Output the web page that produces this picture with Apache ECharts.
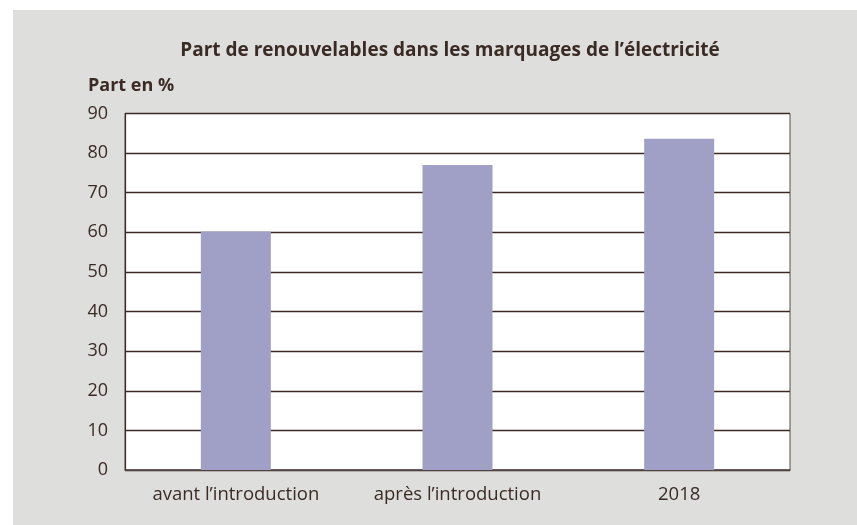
<!DOCTYPE html>
<html>
<head>
<meta charset="utf-8">
<script src="https://cdn.jsdelivr.net/npm/echarts@6/dist/echarts.min.js"></script>
<style>
  html, body { margin: 0; padding: 0; background: #fff; }
  #chart { position: absolute; left: 13px; top: 10px; width: 844px; height: 515px; background: #dededd; }
</style>
</head>
<body>
<div id="chart"></div>
<script>
// chart data
const categories = ['avant l\u2019introduction', 'apr\u00e8s l\u2019introduction', '2018']
const shares = [60.2, 77, 83.6]
const yTicks = [0, 10, 20, 30, 40, 50, 60, 70, 80, 90]

const textColor = '#3b2b25'
const fontFamily = '"Open Sans", "Noto Sans", sans-serif'

const chart = echarts.init(document.getElementById('chart'))
chart.setOption({
  backgroundColor: 'transparent',
  animation: false,
  textStyle: { fontFamily: fontFamily, color: textColor },
  graphic: [
    {
      type: 'text',
      x: 437,
      y: 31,
      style: {
        text: 'Part de renouvelables dans les marquages de l\u2019\u00e9lectricit\u00e9',
        font: 'bold 19px ' + fontFamily,
        fill: textColor,
        align: 'center'
      }
    },
    {
      type: 'text',
      left: 75,
      top: 67,
      style: {
        text: 'Part en %',
        font: 'bold 18px ' + fontFamily,
        fill: textColor
      }
    }
  ],
  grid: {
    left: 112,
    right: 67,
    top: 103.5,
    bottom: 55,
    show: true,
    backgroundColor: '#ffffff',
    borderColor: '#5a4e49',
    borderWidth: 1
  },
  xAxis: {
    type: 'category',
    data: categories,
    axisTick: { show: false },
    axisLine: { lineStyle: { color: '#5a4e49', width: 1.5 } },
    axisLabel: { color: textColor, fontSize: 18.5, margin: 15 }
  },
  yAxis: {
    type: 'value',
    min: yTicks[0],
    max: yTicks[yTicks.length - 1],
    interval: 10,
    axisLine: { show: true, lineStyle: { color: '#3b2b25', width: 1.2 } },
    axisTick: { show: false },
    axisLabel: { color: textColor, fontSize: 18, margin: 17 },
    splitLine: { lineStyle: { color: '#3b2b25', width: 1.3 } }
  },
  series: [{
    type: 'bar',
    data: shares,
    barWidth: 70,
    itemStyle: { color: '#a0a0c6' },
    z: 3
  }]
})
</script>
</body>
</html>
